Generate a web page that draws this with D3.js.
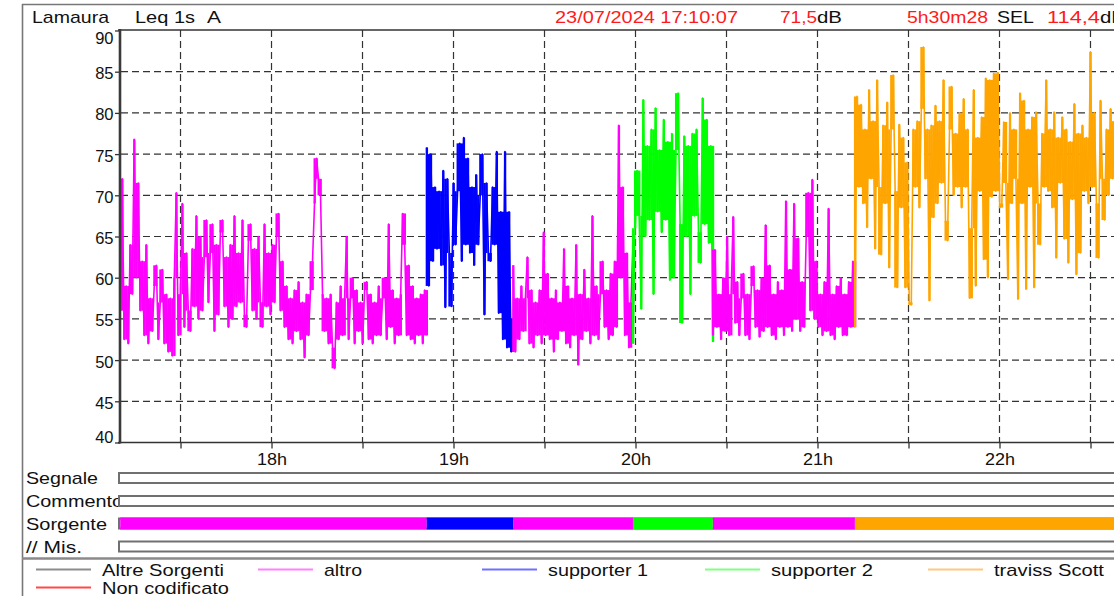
<!DOCTYPE html>
<html><head><meta charset="utf-8">
<script src="https://cdn.jsdelivr.net/npm/d3@7"></script>
<style>
html,body{margin:0;padding:0;background:#fff;overflow:hidden}
svg{display:block}
text{font-family:"Liberation Sans",Arial,Helvetica,sans-serif}
</style>
</head><body>
<svg id="c" width="1114" height="596"></svg>
<script>
// ---------------- DATA ----------------
const measureDay = "2024-07-23";
const measureStart = "17:10:07";
const measureEnd = "22:40:35";
const headerStation = "Lamaura";
const headerMetric = "Leq 1s";
const headerWeighting = "A";
const headerDate = "23/07/2024 17:10:07";
const headerLeq = "71,5";
const headerDuration = "5h30m28";
const headerSEL = "114,4";

const yTickValues = [40, 45, 50, 55, 60, 65, 70, 75, 80, 85, 90];
const hourLabels = ["18h", "19h", "20h", "21h", "22h"];
const rowLabels = ["Segnale", "Commento", "Sorgente", "// Mis."];

const legendNames = ["Altre Sorgenti", "altro", "supporter 1", "supporter 2", "traviss Scott", "Non codificato"];

// source segments (Sorgente)
const segmentSources = ["altro", "supporter 1", "altro", "supporter 2", "altro", "traviss Scott"];
const segmentStarts = ["17:10:07", "18:51:10", "19:19:40", "19:59:10", "20:25:30", "21:12:20"];
const segmentEnds   = ["18:51:10", "19:19:40", "19:59:10", "20:25:30", "21:12:20", "22:40:35"];

// Leq 1s A (dB) (alternating column lows / highs), evenly spaced in time
const leqAltro1 = [56,72,52.5,59,52, 64,58,76.8,60,71.5, 56,62,53,64,52, 57.5,53.5,59,61.5,52.5,
  57,61,52,58,51, 57.5,50.5,60,70.3,53, 58,69,54,63,56, 53.5,63.5,56.5,67.5,55,
  65,56,62.5,67,57, 63,66.5,53.5,64,55.5, 65.5,67,56.5,62.5,54, 64,55,67.5,56.5,63,
  57,67,55.5,54,64.5, 66.5,56,63.5,55,65, 57,54,66.5,56.5,63, 55.5,64,57,65,67.8,
  56,62,54,59,52.5, 57.5,52,58.5,53.5,59.5, 52.5,57,50.3,58,53, 58.5,62,69,74.5,72,
  70,58,53.5,57.5,52, 58,51.5,49,57,52.5, 59,53,57.5,65,52.5, 57.5,60,52,58.5,53.5,
  57,52,58.5,59.5,52.5, 58,52,57,53,59, 53,57.5,60,52.5,66.5, 54,58.5,52,57.5,53,
  58,67.8,64,53,61.5, 52.5,59,52,57.5,53, 58,52,58.5,53];
const leqSupporter1 = [75.8,59,75,62,71, 63.5,70.5,61.5,73,56.4, 72,63,56.5,71.5,64, 70.5,76.3,62,77,64,
  74.5,63,71,61.5,72.5, 64,70,75,55.5,71.5, 63,62,71,64,75.3, 55.7,68,52.5,75.3,51.5,
  68,51,55];
const leqAltro2 = [61.5,51,57.5,52.5,59, 53.5,57.5,62.5,52,58.5, 51.5,57,53,58.5,52, 65.5,53,60.5,52.5,57.5,
  51,58.5,52.5,57,53.5, 63.5,52,59,51.5,57.5, 53,64,49.4,58,52.5, 61,53.5,57.5,52,67.5,
  53,59,52.5,58,62, 54,58.5,52.5,60.5,53, 62,54,78.5,60,71, 53,63,51.5,57,64];
const leqSupporter2 = [52,66,73,67.5,56.2, 81.6,65,76,67,78, 58,80.6,68,75.5,65.5, 79.2,67,76.5,59.7,77.5,
  60,75.5,82.4,66.5,54.5, 77.2,65,76,58,77.5, 67.5,78,65.5,61.8,81.8, 66.5,79.2,64.2,76,52.2];
const leqAltro3 = [53,63.4,54,58,52.5, 60,53.5,65,53,58, 67.4,54.5,59.5,53,57.5, 60.5,53,58,52.5,59,
  61.4,54,58.5,52.8,60, 53.5,66.4,54,61.5,53, 58,52.5,59.5,54,58.5, 53,69.3,54,61,53.5,
  69,55,64.8,53.5,59.5, 54,65,70.3,56,71.9, 55,62,54,58,53, 59.5,53.5,68.4,53,58,
  52.5,59,54,60,53, 58,53,59.5,54,62, 54];
const leqTravis = [54,82,71,81,69, 78,66.1,82.8,72,79, 63.5,84,71,62.8,78.5, 69,81.3,61.2,78,84.6,
  70.5,58.8,78.6,68.5,77, 58.8,74,57,56.7,78, 71,79,68.5,80.5,88, 72,78,57.2,78.5,67.3,
  80.9,69,79,71.5,84, 66.9,64.5,78,83.2,70, 77.5,71,80,68.5,81.7, 71,78,57.5,66,82.8,
  59,77,70.5,79.5,62.2, 84.2,60,84,69.8,84.8, 70.5,84.9,68.5,69,78.9, 71.5,59.8,80,69,78,
  72,57.4,82.4,69,81.5, 58.6,78,71,79.5,58.8, 80.1,69,64,77.5,71, 84,70.5,78,68.5,80.1,
  62.4,77,71.5,79.5,64.7, 78,61.8,76.5,69.5,81.1, 60.4,77.5,63,78.5,70.5, 77,69,87.4,71,80,
  69,62.4,81.5,72,67, 78,70,80.5,72,79, 70.5,78,72.5,76];
const segmentValues = [leqAltro1, leqSupporter1, leqAltro2, leqSupporter2, leqAltro3, leqTravis];

// ---------------- STYLE ----------------
const sourceColor = {
  "Altre Sorgenti": "#808080", "altro": "#ff00ff", "supporter 1": "#0000ff",
  "supporter 2": "#00ff00", "traviss Scott": "#ffa500", "Non codificato": "#ff0000"
};
const legendLineColor = {
  "Altre Sorgenti": "#8c8c8c", "altro": "#ff80ff", "supporter 1": "#7070ff",
  "supporter 2": "#80ff80", "traviss Scott": "#ffc880", "Non codificato": "#ff4848"
};
const RED = "#ff1a1a", INK = "#111";

const svg = d3.select("#c");
const parse = d3.timeParse("%Y-%m-%d %H:%M:%S");
const T = s => parse(measureDay + " " + s);
const t0 = T(measureStart), t1 = T(measureEnd);

const x = d3.scaleTime().domain([t0, t1]).range([120.2, 1122.6]);
const y = d3.scaleLinear().domain([40, 90]).range([442.5, 30.5]);

function txt(g, s, x0, yb, opt = {}) {
  const t = g.append("text").attr("x", x0).attr("y", yb).text(s)
    .attr("font-size", opt.size || 17).attr("fill", opt.fill || INK);
  if (opt.w) t.attr("textLength", opt.w).attr("lengthAdjust", "spacingAndGlyphs");
  if (opt.anchor) t.attr("text-anchor", opt.anchor);
  return t;
}

// frame
svg.append("line").attr("x1", 22.5).attr("x2", 22.5).attr("y1", 4).attr("y2", 596)
  .attr("stroke", "#777").attr("stroke-width", 1.6);
svg.append("line").attr("x1", 22).attr("x2", 1114).attr("y1", 4.5).attr("y2", 4.5)
  .attr("stroke", "#777").attr("stroke-width", 1.6);

// header
const hg = svg.append("g");
txt(hg, headerStation, 32, 23, {w: 77});
txt(hg, headerMetric, 135, 23, {w: 60});
txt(hg, headerWeighting, 207, 23, {w: 14});
txt(hg, headerDate, 555, 23, {w: 183, fill: RED});
txt(hg, headerLeq, 780, 23, {w: 37, fill: RED});
txt(hg, "dB", 817, 23, {w: 25});
txt(hg, headerDuration, 907, 23, {w: 81, fill: RED});
txt(hg, "SEL", 997, 23, {w: 37});
txt(hg, headerSEL, 1047, 23, {w: 53, fill: RED});
txt(hg, "dB", 1100, 23, {w: 25});

// grid
const grid = svg.append("g").attr("stroke", "#333").attr("stroke-width", 1.2)
  .attr("stroke-dasharray", "7,4");
grid.selectAll("line.h").data(yTickValues.filter(v => v > 40 && v < 90)).join("line")
  .attr("x1", 121).attr("x2", 1114).attr("y1", d => y(d)).attr("y2", d => y(d));
const halfHours = d3.timeMinute.every(30).range(t0, t1);
grid.selectAll("line.v").data(halfHours).join("line")
  .attr("x1", d => x(d)).attr("x2", d => x(d)).attr("y1", 30).attr("y2", 442);

// data: each sample drawn as a thin min/max column (filling towards its neighbours) + the line
svg.append("clipPath").attr("id", "plotclip").append("rect")
  .attr("x", 120).attr("y", 30).attr("width", 1000).attr("height", 413);
const dg = svg.append("g").attr("clip-path", "url(#plotclip)");
const line = d3.line().x(d => x(d.t)).y(d => y(d.v));
segmentSources.forEach((src, k) => {
  const vals = segmentValues[k];
  const ts = d3.scaleLinear().domain([0, vals.length - 1])
    .range([+T(segmentStarts[k]), +T(segmentEnds[k])]);
  const pts = vals.map((v, i) => ({t: new Date(ts(i)), v}));
  const step = x(pts[1].t) - x(pts[0].t);
  const cols = pts.map((p, i) => {
    const a = i > 0 ? vals[i - 1] : vals[i + 1];
    const b = i < vals.length - 1 ? vals[i + 1] : vals[i - 1];
    const X = p.v >= (a + b) / 2 ? Math.max(a, b) : Math.min(a, b);
    return {t: p.t, lo: Math.min(p.v, X), hi: Math.max(p.v, X)};
  });
  dg.append("g").selectAll("rect").data(cols).join("rect")
    .attr("x", d => x(d.t) - step / 2).attr("width", step + 0.3)
    .attr("y", d => y(d.hi)).attr("height", d => Math.max(0.5, y(d.lo) - y(d.hi)))
    .attr("fill", sourceColor[src]);
  dg.append("path").datum(pts).attr("d", line).attr("fill", "none")
    .attr("stroke", sourceColor[src]).attr("stroke-width", 1.6)
    .attr("stroke-linejoin", "round");
});

// axes
const yAxis = svg.append("g").attr("transform", "translate(120,0)")
  .call(d3.axisLeft(y).tickValues(yTickValues).tickSize(5).tickPadding(2).tickFormat(d => d));
yAxis.select(".domain").remove();
yAxis.selectAll(".tick line").attr("stroke", "#333").attr("stroke-width", 1.3);
yAxis.selectAll(".tick text").attr("font-size", 16.5).attr("fill", INK)
  .attr("font-family", '"Liberation Sans",Arial,sans-serif')
  .attr("dy", d => d === 90 ? "0.78em" : d === 40 ? "0em" : "0.42em")
  .attr("x", -6.5);

const xAxis = svg.append("g").attr("transform", "translate(0,442.5)")
  .call(d3.axisBottom(x).tickValues(halfHours).tickSize(6).tickPadding(4)
    .tickFormat(d => d.getMinutes() === 0 ? hourLabels[d.getHours() - 18] : ""));
xAxis.select(".domain").remove();
xAxis.selectAll(".tick line").attr("stroke", "#333").attr("stroke-width", 1.3);
xAxis.selectAll(".tick text").attr("font-size", 17).attr("fill", INK)
  .attr("font-family", '"Liberation Sans",Arial,sans-serif')
  .attr("textLength", d => d.getMinutes() === 0 ? 30 : null)
  .attr("lengthAdjust", "spacingAndGlyphs");

// plot borders
svg.append("line").attr("x1", 118).attr("x2", 1114).attr("y1", 30).attr("y2", 30)
  .attr("stroke", "#333").attr("stroke-width", 1.5);
svg.append("line").attr("x1", 118).attr("x2", 1114).attr("y1", 442.5).attr("y2", 442.5)
  .attr("stroke", "#333").attr("stroke-width", 1.5);
svg.append("line").attr("x1", 120).attr("x2", 120).attr("y1", 29).attr("y2", 443.5)
  .attr("stroke", "#3a3a3a").attr("stroke-width", 2.6);

// rows below
const rowTop = [473, 496, 518.5, 541.5];
const rowLabelW = [72, 97, 81, 56];
const rg = svg.append("g");
rowLabels.forEach((lab, i) => {
  txt(rg, lab, 26, rowTop[i] + 11, {w: rowLabelW[i]});
  rg.append("rect").attr("x", 119).attr("y", rowTop[i]).attr("width", 1010).attr("height", 10)
    .attr("fill", "#fff").attr("stroke", "#707070").attr("stroke-width", 2);
});
const sorg = rg.append("g");
segmentSources.forEach((src, k) => {
  sorg.append("rect").attr("x", x(T(segmentStarts[k])))
    .attr("y", rowTop[2] - 1).attr("width", x(T(segmentEnds[k])) - x(T(segmentStarts[k])))
    .attr("height", 12).attr("fill", sourceColor[src]);
});

// legend
svg.append("line").attr("x1", 22).attr("x2", 1114).attr("y1", 558.5).attr("y2", 558.5)
  .attr("stroke", "#8a8a8a").attr("stroke-width", 2.5);
const legX = [36, 258, 482, 705, 928, 36];
const legY = [569.5, 569.5, 569.5, 569.5, 569.5, 587.5];
const legW = [122, 38, 100, 102, 110, 127];
const lg = svg.append("g");
legendNames.forEach((n, i) => {
  lg.append("line").attr("x1", legX[i]).attr("x2", legX[i] + 55)
    .attr("y1", legY[i]).attr("y2", legY[i])
    .attr("stroke", legendLineColor[n]).attr("stroke-width", 2);
  txt(lg, n, legX[i] + 66, legY[i] + 6, {w: legW[i]});
});
</script>
</body></html>
